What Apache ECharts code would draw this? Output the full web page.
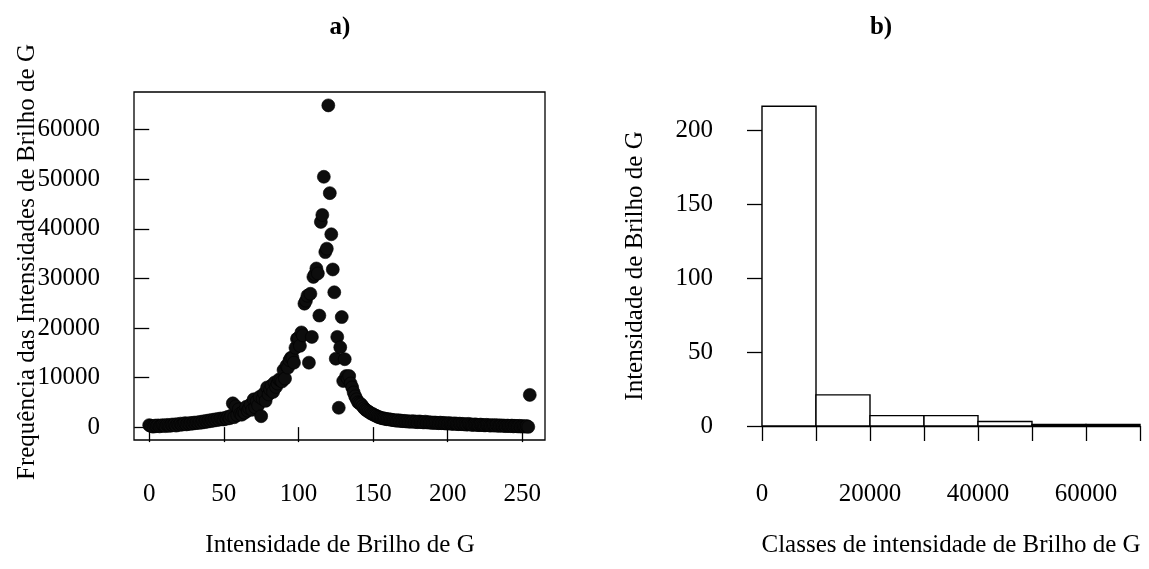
<!DOCTYPE html>
<html>
<head>
<meta charset="utf-8">
<script src="https://cdn.jsdelivr.net/npm/echarts@6/dist/echarts.min.js"></script>
<style>
  html, body { margin: 0; padding: 0; background: #ffffff; }
  #chart { width: 1149px; height: 569px; }
</style>
</head>
<body>
<div id="chart"></div>
<script>
// Frequency of each brightness level 0..255 of channel G
const freqG = [
  400, 250, 150, 100, 300, 200, 350, 150, 250, 400, 300, 200, 450, 350, 250, 500,
  400, 550, 300, 600, 450, 700, 500, 650, 800, 550, 750, 650, 850, 700, 900, 800,
  950, 850, 1050, 900, 1150, 1000, 1250, 1100, 1350, 1200, 1450, 1300, 1550, 1400, 1650, 1500,
  1750, 1600, 1550, 1900, 1700, 2100, 1800, 2300, 4800, 2000, 4200, 2400, 3600, 2700, 2500, 3100,
  2900, 4100, 3300, 3800, 4600, 3500, 5600, 4000, 5200, 4400, 6100, 2200, 5700, 6800, 5300, 8000,
  6600, 7600, 8400, 7100, 9000, 8100, 8800, 9600, 9500, 9200, 11500, 9800, 12400, 12000, 13500, 14000,
  14000, 13000, 16000, 17800, 18000, 16400, 19100, 18500, 24900, 25500, 26500, 13000, 26900, 18200, 30300, 30800,
  32000, 31000, 22500, 41400, 42800, 50500, 35300, 36000, 64900, 47200, 38900, 31800, 27200, 13800, 18200, 3900,
  16100, 22200, 9300, 13700, 10300, 9800, 10300, 8800, 8000, 7000, 6200, 5600, 5000, 4800, 4600, 4200,
  3800, 3500, 3300, 3100, 2900, 2700, 2600, 2400, 2300, 2100, 2000, 1900, 1800, 1750, 1700, 1600,
  1600, 1550, 1500, 1450, 1400, 1350, 1300, 1400, 1250, 1300, 1200, 1250, 1150, 1200, 1100, 1150,
  1100, 1200, 1050, 1100, 1000, 1150, 1050, 1000, 950, 1100, 950, 1000, 900, 950, 850, 900,
  900, 850, 800, 900, 800, 850, 750, 800, 700, 800, 750, 650, 700, 750, 650, 600,
  700, 600, 650, 550, 600, 500, 650, 550, 500, 450, 550, 500, 450, 400, 500, 450,
  400, 350, 450, 400, 350, 300, 400, 350, 300, 400, 250, 300, 350, 250, 300, 200,
  300, 250, 200, 300, 150, 250, 200, 150, 250, 100, 200, 150, 100, 200, 50, 6500
];

// Tick values for panel a)
const scatterXTicks = [0, 50, 100, 150, 200, 250];
const scatterYTicks = [0, 10000, 20000, 30000, 40000, 50000, 60000];

// Histogram of the frequencies (panel b)
const binStarts = [0, 10000, 20000, 30000, 40000, 50000, 60000];
const binEnds = [10000, 20000, 30000, 40000, 50000, 60000, 70000];
const binCounts = [216, 21, 7, 7, 3, 1, 1];
const histXLabels = [0, 20000, 40000, 60000];
const histYTicks = [0, 50, 100, 150, 200];

// Text
const titleA = 'a)';
const titleB = 'b)';
const xNameA = 'Intensidade de Brilho de G';
const yNameA = 'Frequência das Intensidades de Brilho de G';
const xNameB = 'Classes de intensidade de Brilho de G';
const yNameB = 'Intensidade de Brilho de G';

const FONT = 'Liberation Serif, Times New Roman, serif';
const TICK_FS = 25;
const NAME_FS = 25;

const scatterData = freqG.map((v, i) => [i, v]);
const histData = binCounts.map((c, i) => [binStarts[i], binEnds[i], c]);

const tickStyle = { color: '#000', width: 1.3 };
const plainNumber = v => String(v);
const labelStyle = { fontFamily: FONT, fontSize: TICK_FS, color: '#000', formatter: plainNumber };

function textEl(x, y, text, opts) {
  opts = opts || {};
  return {
    type: 'text',
    x: x, y: y,
    rotation: opts.rotation || 0,
    style: {
      text: text,
      font: (opts.bold ? 'bold ' : '') + (opts.size || NAME_FS) + 'px ' + FONT,
      fill: '#000',
      textAlign: 'center', textVerticalAlign: 'middle',
      align: 'center', verticalAlign: 'middle'
    }
  };
}

const chart = echarts.init(document.getElementById('chart'), null, { renderer: 'canvas' });

chart.setOption({
  animation: false,
  backgroundColor: '#ffffff',
  grid: [
    { left: 134, top: 92, width: 411, height: 348, show: true,
      borderColor: '#000', borderWidth: 1.3, backgroundColor: 'transparent' },
    { left: 762, top: 130, width: 378, height: 296, show: false }
  ],
  xAxis: [
    {
      type: 'value', gridIndex: 0, min: -10.2, max: 265.2,
      axisLine: { show: false },
      splitLine: { show: false },
      axisTick: { show: true, length: 15, lineStyle: tickStyle, customValues: scatterXTicks },
      axisLabel: Object.assign({ margin: 42, customValues: scatterXTicks }, labelStyle)
    },
    {
      type: 'value', gridIndex: 1, min: 0, max: 70000, interval: 10000, offset: 14,
      axisLine: { show: true, lineStyle: tickStyle },
      splitLine: { show: false },
      axisTick: { show: true, length: 15, lineStyle: tickStyle },
      axisLabel: Object.assign({ margin: 42, customValues: histXLabels }, labelStyle)
    }
  ],
  yAxis: [
    {
      type: 'value', gridIndex: 0, min: -2600, max: 67600,
      axisLine: { show: false },
      splitLine: { show: false },
      axisTick: { show: true, length: 15, lineStyle: tickStyle, customValues: scatterYTicks },
      axisLabel: Object.assign({ margin: 34, customValues: scatterYTicks }, labelStyle)
    },
    {
      type: 'value', gridIndex: 1, min: 0, max: 200, interval: 50, offset: 15,
      axisLine: { show: true, lineStyle: tickStyle },
      splitLine: { show: false },
      axisTick: { show: true, length: 15, lineStyle: tickStyle, customValues: histYTicks },
      axisLabel: Object.assign({ margin: 34, customValues: histYTicks }, labelStyle)
    }
  ],
  series: [
    {
      type: 'scatter', xAxisIndex: 0, yAxisIndex: 0,
      data: scatterData,
      symbol: 'circle', symbolSize: 13,
      itemStyle: { color: '#0d0d0d', borderColor: '#000', borderWidth: 0.6, opacity: 1 },
      emphasis: { disabled: true }
    },
    {
      type: 'custom', xAxisIndex: 1, yAxisIndex: 1,
      data: histData, clip: false,
      encode: { x: [0, 1], y: 2 },
      renderItem: function (params, api) {
        const p0 = api.coord([api.value(0), 0]);
        const p1 = api.coord([api.value(1), api.value(2)]);
        return {
          type: 'rect',
          shape: { x: p0[0], y: p1[1], width: p1[0] - p0[0], height: p0[1] - p1[1] },
          style: { fill: '#ffffff', stroke: '#000', lineWidth: 1.4 }
        };
      }
    }
  ],
  graphic: [
    textEl(340, 28, titleA, { bold: true }),
    textEl(881, 28, titleB, { bold: true }),
    textEl(340, 545, xNameA),
    textEl(951, 545, xNameB),
    textEl(27, 262, yNameA, { rotation: Math.PI / 2 }),
    textEl(635, 266, yNameB, { rotation: Math.PI / 2 })
  ]
});
</script>
</body>
</html>
